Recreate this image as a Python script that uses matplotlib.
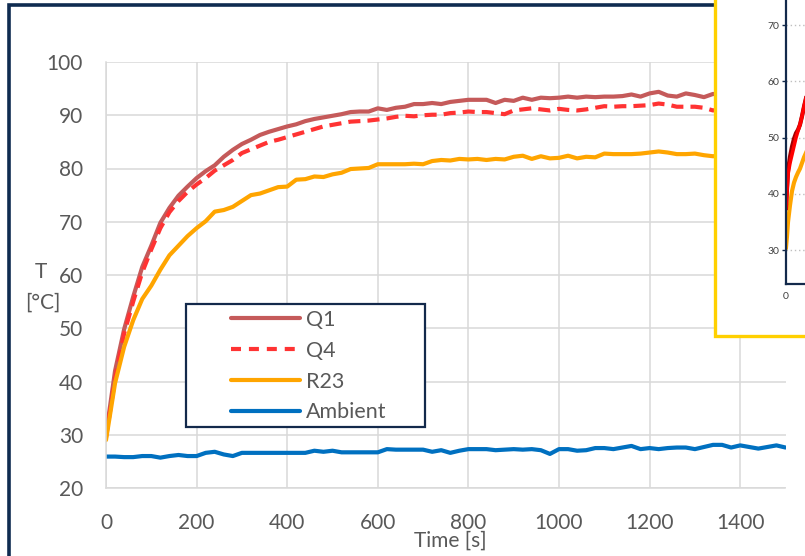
import matplotlib
matplotlib.use("Agg")
import matplotlib.pyplot as plt
from matplotlib.patches import Rectangle
from matplotlib.lines import Line2D
import numpy as np

plt.rcParams['font.family'] = ['Lato', 'DejaVu Sans']

# ---------------- data ----------------
time_s = list(range(0, 1501, 20))

q1 = [30.0, 42.0, 49.8, 55.9, 61.5, 65.5, 69.8, 72.6, 74.9, 76.6,
      78.2, 79.5, 80.6, 82.2, 83.5, 84.6, 85.4, 86.3, 86.9, 87.4,
      87.9, 88.3, 88.9, 89.3, 89.6, 89.9, 90.2, 90.6, 90.7, 90.7,
      91.3, 91.0, 91.4, 91.6, 92.1, 92.1, 92.3, 92.1, 92.5, 92.7,
      92.9, 92.9, 92.9, 92.3, 92.9, 92.7, 93.3, 92.9, 93.3, 93.2,
      93.3, 93.5, 93.3, 93.5, 93.4, 93.5, 93.5, 93.6, 93.9, 93.5,
      94.1, 94.4, 93.7, 93.5, 94.1, 93.8, 93.4, 94.0, 93.8, 94.0,
      93.7, 93.9, 94.1, 93.8, 93.9, 94.0]

q4 = [29.5, 40.5, 49.0, 55.0, 60.5, 64.8, 68.8, 71.8, 73.9, 75.6,
      77.0, 78.2, 79.6, 80.6, 81.6, 82.9, 83.6, 84.3, 85.0, 85.4,
      85.9, 86.4, 86.9, 87.4, 87.9, 88.2, 88.5, 88.8, 88.9, 89.0,
      89.2, 89.4, 89.7, 89.9, 89.8, 90.0, 90.1, 90.1, 90.4, 90.5,
      90.7, 90.6, 90.6, 90.4, 90.2, 90.9, 91.1, 91.3, 91.1, 90.9,
      91.2, 91.0, 90.9, 91.1, 91.4, 91.7, 91.6, 91.7, 91.7, 91.8,
      91.9, 92.2, 92.0, 91.6, 91.6, 91.6, 91.4, 90.9, 91.2, 91.5,
      91.4, 91.6, 91.5, 91.7, 91.4, 91.6]

r23 = [29.0, 39.7, 46.5, 51.5, 55.5, 58.0, 61.0, 63.7, 65.5, 67.3,
       68.8, 70.1, 71.9, 72.2, 72.8, 73.9, 75.0, 75.3, 75.9, 76.5,
       76.6, 77.9, 78.0, 78.5, 78.4, 78.9, 79.2, 79.9, 80.0, 80.1,
       80.8, 80.8, 80.8, 80.8, 80.9, 80.8, 81.4, 81.6, 81.5, 81.8,
       81.7, 81.8, 81.6, 81.8, 81.7, 82.2, 82.4, 81.8, 82.3, 81.9,
       82.0, 82.4, 81.9, 82.2, 82.1, 82.8, 82.7, 82.7, 82.7, 82.8,
       83.0, 83.2, 83.0, 82.7, 82.7, 82.8, 82.5, 82.3, 82.5, 82.7,
       82.6, 82.8, 82.7, 82.9, 82.8, 82.9]

ambient = [25.9, 25.9, 25.8, 25.8, 26.0, 26.0, 25.7, 26.0, 26.2, 26.0,
           26.0, 26.6, 26.8, 26.3, 26.0, 26.6, 26.6, 26.6, 26.6, 26.6,
           26.6, 26.6, 26.6, 27.0, 26.8, 27.0, 26.7, 26.7, 26.7, 26.7,
           26.7, 27.3, 27.2, 27.2, 27.2, 27.2, 26.8, 27.1, 26.6, 27.0,
           27.3, 27.3, 27.3, 27.1, 27.2, 27.3, 27.2, 27.3, 27.1, 26.4,
           27.3, 27.3, 27.0, 27.1, 27.5, 27.5, 27.3, 27.6, 27.9, 27.3,
           27.5, 27.3, 27.5, 27.6, 27.6, 27.3, 27.7, 28.1, 28.1, 27.6,
           28.0, 27.7, 27.4, 27.7, 28.0, 27.6]

series_labels = ["Q1", "Q4", "R23", "Ambient"]
x_ticks = [0, 200, 400, 600, 800, 1000, 1200, 1400]
y_ticks = [20, 30, 40, 50, 60, 70, 80, 90, 100]

# inset (zoom of the first seconds)
inset_t = [0, 1, 2, 4, 6, 8, 10, 12, 14, 16, 18, 20]
inset_q4 = [37.5, 40.5, 43.5, 45.5, 47.0, 48.5, 50.0, 51.2, 52.3, 53.8, 55.5, 57.0]
inset_q1 = [37.5, 40.8, 44.2, 46.6, 48.4, 49.8, 50.8, 51.4, 52.3, 53.8, 55.5, 57.0]
inset_r23 = [30.5, 32.5, 35.0, 38.0, 40.5, 42.0, 43.0, 43.8, 44.5, 45.5, 46.5, 47.3]
inset_y_ticks = [30, 40, 50, 60, 70]
inset_x_ticks = [0]

# ---------------- figure ----------------
W, H = 805, 556
fig = plt.figure(figsize=(W / 100, H / 100), dpi=100)

def fx(px):
    return px / W

def fy(py):
    return 1 - py / H

c_q1 = '#C55A5A'
c_q4 = '#FF3333'
c_r23 = '#FFA500'
c_amb = '#0070C0'
navy = '#13294B'
grid_c = '#D9D9D9'
text_c = '#595959'

ax = fig.add_axes([fx(106), fy(488), fx(785.5) - fx(106), fy(62) - fy(488)])
ax.set_xlim(0, 1500)
ax.set_ylim(20, 100)
ax.set_xticks(x_ticks)
ax.set_yticks(y_ticks)
ax.grid(True, color=grid_c, lw=1.1)
ax.set_axisbelow(True)
for s in ['top', 'right']:
    ax.spines[s].set_visible(False)
for s in ['bottom', 'left']:
    ax.spines[s].set_color(grid_c)
    ax.spines[s].set_linewidth(1.1)
ax.tick_params(length=0, labelsize=15, colors=text_c)
ax.tick_params(axis='y', pad=16.5)
ax.tick_params(axis='x', pad=18)

lw = 3.0
ax.plot(time_s, q1, color=c_q1, lw=lw, solid_capstyle='round', label=series_labels[0])
ax.plot(time_s, q4, color=c_q4, lw=lw, dashes=(2.9, 1.7), label=series_labels[1])
ax.plot(time_s, r23, color=c_r23, lw=lw, solid_capstyle='round', label=series_labels[2])
ax.plot(time_s, ambient, color=c_amb, lw=lw, solid_capstyle='round', label=series_labels[3])

fig.text(fx(450), fy(541), "Time [s]", ha='center', va='center', fontsize=15, color=text_c)
fig.text(fx(41), fy(272), "T", ha='center', va='center', fontsize=15, color=text_c)
fig.text(fx(43), fy(303), "[°C]", ha='center', va='center', fontsize=15, color=text_c)

# legend frame + legend
fig.patches.append(Rectangle((fx(186), fy(427)), fx(425) - fx(186), fy(304) - fy(427),
                             transform=fig.transFigure, facecolor='white', edgecolor=navy,
                             lw=1.6, zorder=1))
handles = [
    Line2D([], [], color=c_q1, lw=lw, solid_capstyle='round'),
    Line2D([], [], color=c_q4, lw=lw, dashes=(2.4, 1.9)),
    Line2D([], [], color=c_r23, lw=lw, solid_capstyle='round'),
    Line2D([], [], color=c_amb, lw=lw, solid_capstyle='round'),
]
leg = fig.legend(handles, series_labels, loc='upper left', bbox_to_anchor=(fx(231), fy(310)),
                 bbox_transform=fig.transFigure, frameon=False, fontsize=15.5,
                 handlelength=3.2, handletextpad=0.3, labelspacing=0.5, borderpad=0,
                 borderaxespad=0)
for t in leg.get_texts():
    t.set_color(text_c)
leg.set_zorder(6)

# navy outer frame
fig.patches.append(Rectangle((fx(9), fy(600)), 2.0, fy(4.5) - fy(600),
                             transform=fig.transFigure, facecolor='none', edgecolor='#0F2B50',
                             lw=2.6, zorder=1.5, clip_on=False))

# inset yellow box
fig.patches.append(Rectangle((fx(714.5), fy(336)), 0.5, 1.0,
                             transform=fig.transFigure, facecolor='white', edgecolor='#FFD000',
                             lw=2.4, zorder=2, clip_on=False))

iax = fig.add_axes([fx(786), fy(284), 200 / W, (284 + 31.25) / H])
iax.set_zorder(3)
iax.set_facecolor('white')
iax.set_xlim(0, 200)
iax.set_ylim(24, 80)
iax.set_xticks(inset_x_ticks)
iax.set_yticks(inset_y_ticks)
for s in ['top', 'right']:
    iax.spines[s].set_visible(False)
for s in ['bottom', 'left']:
    iax.spines[s].set_color(navy)
    iax.spines[s].set_linewidth(1.6)
iax.tick_params(axis='y', length=3, width=1, color=navy, pad=1.5, labelsize=7.5, labelcolor='#404040')
iax.tick_params(axis='x', length=0, pad=6, labelsize=7.5, labelcolor='#404040')
iax.yaxis.grid(True, color='#BFBFBF', lw=1, linestyle=(0, (1, 2)))
iax.set_axisbelow(True)
iax.plot(inset_t, inset_r23, color='#FFA500', lw=3)
iax.plot(inset_t, inset_q1, color='#A00000', lw=3)
iax.plot(inset_t, inset_q4, color='#FF0000', lw=2.6)

fig.savefig("out.png", dpi=100)
